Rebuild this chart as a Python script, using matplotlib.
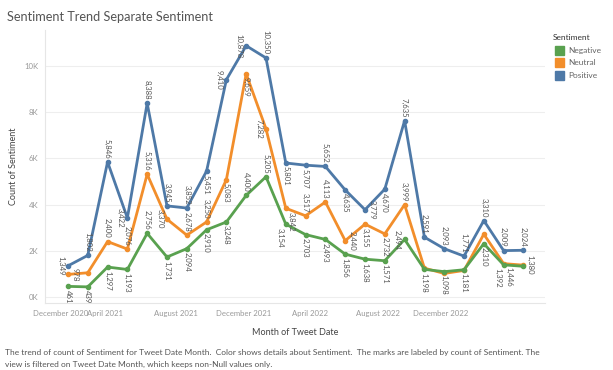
import matplotlib.pyplot as plt
import numpy as np

plt.rcParams['font.family'] = ['Lato', 'DejaVu Sans']

# monthly counts, in order of the points on the chart
positive = [1349, 1802, 5846, 3422, 8388, 3945, 3852, 5451, 9410, 10878, 10350, 5801,
            5707, 5652, 4635, 3779, 4670, 7635, 2591, 2093, 1771, 3310, 2009, 2024]
neutral = [978, 1050, 2400, 2076, 5316, 3370, 2678, 3250, 5083, 9659, 7282, 3842,
           3517, 4113, 2440, 3155, 2732, 3999, 1250, 1020, 1150, 2720, 1446, 1380]
negative = [461, 439, 1297, 1193, 2756, 1731, 2094, 2910, 3248, 4400, 5205, 3154,
            2703, 2493, 1856, 1638, 1571, 2494, 1198, 1098, 1181, 2310, 1392, 1330]

# where tableau put each mark label (a=above, b=below, l=left, r=right, None=hidden)
pos_place = ['l', 'a', 'a', 'l', 'a', 'a', 'a', 'b', 'l', 'l', 'a', 'b',
             'b', 'a', 'b', 'r', 'b', 'a', 'a', 'a', 'a', 'a', 'a', 'a']
neu_place = ['r', None, 'a', 'a', 'a', 'l', 'a', 'a', 'b', 'b', 'l', 'br',
             'a', 'a', 'r', 'b', 'b', 'a', None, None, None, None, 'br', 'r']
neg_place = ['b', 'b', 'b', 'b', 'a', 'b', 'b', 'b', 'b', 'a', 'a', 'bl',
             'b', 'b', 'b', 'b', 'b', 'l', 'b', 'b', 'b', 'b', 'bl', None]

tick_labels = ['December 2020', 'April 2021', 'August 2021', 'December 2021',
               'April 2022', 'August 2022', 'December 2022']
tick_pos = [-0.35, 1.87, 5.46, 8.85, 12.23, 15.67, 18.8]

colors = {'Negative': '#59A14F', 'Neutral': '#F28E2B', 'Positive': '#4E79A7'}

fig = plt.figure(figsize=(6.13, 3.70), dpi=100)
ax = fig.add_axes([0.0734, 0.181, 0.816, 0.738])

x = np.arange(len(positive))

offsets = {'a': ((0, 2.5), 'center', 'bottom'),
           'b': ((0, -2.5), 'center', 'top'),
           'l': ((-2.5, 0), 'right', 'center'),
           'r': ((2.5, 0), 'left', 'center'),
           'bl': ((-1.5, -2.5), 'right', 'top'),
           'br': ((1.5, -2.5), 'left', 'top')}

for name, vals, place in [('Positive', positive, pos_place),
                          ('Neutral', neutral, neu_place),
                          ('Negative', negative, neg_place)]:
    c = colors[name]
    ax.plot(x, vals, color=c, lw=2, marker='o', ms=3, zorder=3)
    for xi, v, p in zip(x, vals, place):
        if p is None:
            continue
        off, ha, va = offsets[p]
        ax.annotate(f'{v:,}', (xi, v), xytext=off, textcoords='offset points',
                    rotation=-90, ha=ha, va=va, fontsize=5.6, color='#555555', zorder=4)

ax.set_xlim(-1.16, 24.1)
ax.set_ylim(-260, 11560)
ax.set_yticks(range(0, 10001, 2000))
ax.set_yticklabels([f'{v // 1000}K' for v in range(0, 10001, 2000)])
ax.set_xticks(tick_pos)
ax.set_xticklabels(tick_labels)
ax.tick_params(length=0, labelsize=5.6, labelcolor='#999999', pad=5)
ax.grid(axis='y', color='#eeeeee', lw=0.8)
ax.set_axisbelow(True)
for s in ['top', 'right']:
    ax.spines[s].set_visible(False)
for s in ['left', 'bottom']:
    ax.spines[s].set_color('#e6e6e6')
    ax.spines[s].set_linewidth(0.8)

ax.set_xlabel('Month of Tweet Date', fontsize=6.5, color='#444444', labelpad=8)
ax.set_ylabel('Count of Sentiment', fontsize=6.5, color='#444444', labelpad=4)

fig.text(0.011, 0.955, 'Sentiment Trend Separate Sentiment', fontsize=9.2,
         color='#555555', va='center')

# legend
fig.text(553 / 613, 1 - 37 / 370, 'Sentiment', fontsize=6, color='#333333', va='center')
for i, name in enumerate(['Negative', 'Neutral', 'Positive']):
    yy = 1 - (50 + i * 12.5) / 370
    fig.patches.append(plt.Rectangle((555 / 613, yy - 4.5 / 370), 9 / 613, 9 / 370,
                                     transform=fig.transFigure, color=colors[name]))
    fig.text(568 / 613, yy, name, fontsize=6, color='#666666', va='center')

fig.text(0.008, 1 - 352 / 370,
         'The trend of count of Sentiment for Tweet Date Month.  Color shows details about Sentiment.  '
         'The marks are labeled by count of Sentiment. The',
         fontsize=6, color='#555555', va='center')
fig.text(0.008, 1 - 364 / 370,
         'view is filtered on Tweet Date Month, which keeps non-Null values only.',
         fontsize=6, color='#555555', va='center')

fig.savefig('out.png', dpi=100)
